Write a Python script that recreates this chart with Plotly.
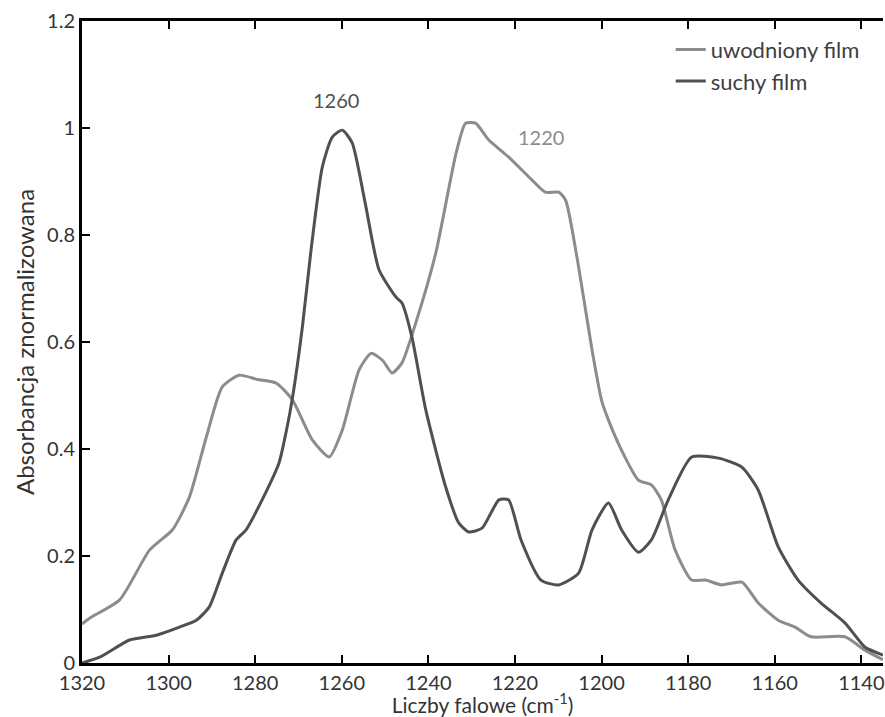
import plotly.graph_objects as go

# uwodniony film (hydrated) – light gray
x_wet = [1320, 1318, 1311.3, 1304.4, 1299.1, 1295.2, 1291.3, 1287.6, 1283.7, 1279.5, 1275.1, 1271.4,
         1266.8, 1262.9, 1259.9, 1256.0, 1253.2, 1250.5, 1248.4, 1246.1, 1242.9, 1238.3, 1233.6,
         1231.4, 1229.1, 1226.1, 1221.5, 1216.1, 1213.0, 1209.9, 1208.3, 1205.3, 1202.2, 1200.0,
         1198.4, 1195.4, 1191.5, 1188.5, 1186.2, 1183.0, 1179.2, 1176.0, 1172.3, 1167.6, 1163.8,
         1159.2, 1155.3, 1151.6, 1143.8, 1139.2, 1135]
y_wet = [0.073, 0.085, 0.118, 0.211, 0.249, 0.31, 0.422, 0.516, 0.538, 0.530, 0.523, 0.492,
         0.417, 0.385, 0.435, 0.548, 0.579, 0.565, 0.542, 0.561, 0.636, 0.766, 0.953,
         1.009, 1.009, 0.978, 0.946, 0.903, 0.880, 0.880, 0.865, 0.740, 0.585, 0.491,
         0.454, 0.398, 0.342, 0.333, 0.305, 0.211, 0.155, 0.155, 0.146, 0.151, 0.112,
         0.080, 0.067, 0.049, 0.049, 0.024, 0.006]

# suchy film (dry) – dark gray
x_dry = [1320, 1315.9, 1309.0, 1302.8, 1297.5, 1293.6, 1290.6, 1287.6, 1284.4, 1282.1, 1278.4,
         1274.5, 1272.9, 1271.4, 1269.1, 1267.1, 1264.5, 1262.2, 1259.9, 1257.6, 1254.6, 1251.4,
         1247.5, 1246.1, 1243.8, 1240.6, 1236.0, 1233.0, 1230.7, 1227.6, 1223.7, 1221.5, 1218.6,
         1214.0, 1209.9, 1205.3, 1202.2, 1198.4, 1195.4, 1191.5, 1188.5, 1184.6, 1179.2, 1173.0,
         1167.6, 1163.8, 1159.2, 1154.6, 1149.3, 1143.8, 1139.2, 1135]
y_dry = [0.0, 0.011, 0.043, 0.052, 0.067, 0.080, 0.105, 0.168, 0.230, 0.249, 0.305,
         0.374, 0.430, 0.495, 0.628, 0.772, 0.927, 0.983, 0.996, 0.972, 0.860, 0.735,
         0.684, 0.673, 0.609, 0.473, 0.329, 0.262, 0.245, 0.252, 0.305, 0.305, 0.230,
         0.155, 0.146, 0.168, 0.249, 0.299, 0.249, 0.207, 0.230, 0.305, 0.385, 0.383,
         0.366, 0.323, 0.217, 0.155, 0.112, 0.075, 0.030, 0.015]

x_ticks = [1320, 1300, 1280, 1260, 1240, 1220, 1200, 1180, 1160, 1140]
y_ticks = [0, 0.2, 0.4, 0.6, 0.8, 1.0, 1.2]

peak_labels = ["1260", "1220"]
peak_x = [1261.3, 1214.1]
peak_y = [1.052, 0.983]

WET = "#8c8c8c"
DRY = "#505050"
FONT = "Lato, 'Open Sans', sans-serif"

fig = go.Figure()
fig.add_trace(go.Scatter(x=x_wet, y=y_wet, mode="lines", name="uwodniony film", legendgroup="a",
                         line=dict(color=WET, width=3, shape="spline", smoothing=0.6)))
fig.add_trace(go.Scatter(x=x_dry, y=y_dry, mode="lines", name="suchy film", legendgroup="b",
                         line=dict(color=DRY, width=3, shape="spline", smoothing=0.6)))

for t, xx, yy, c in zip(peak_labels, peak_x, peak_y, [DRY, WET]):
    fig.add_annotation(x=xx, y=yy, text=t, showarrow=False,
                       font=dict(family=FONT, size=20, color=c))

fig.update_layout(
    width=885, height=717,
    margin=dict(l=82, r=0, t=21, b=54),
    plot_bgcolor="white", paper_bgcolor="white",
    font=dict(family=FONT, size=20, color="#333333"),
    showlegend=True,
    legend=dict(x=0.735, y=0.988, xanchor="left", yanchor="top",
                bgcolor="rgba(0,0,0,0)", font=dict(family=FONT, size=22, color="#404040"),
                tracegroupgap=0),
    xaxis=dict(range=[1320, 1135], tickvals=x_ticks, ticks="inside", ticklen=8, tickwidth=2,
               tickcolor="black", showline=True, linecolor="black", linewidth=3,
               mirror="ticks", showgrid=False, zeroline=False, ticklabeloverflow="allow",
               tickfont=dict(size=20, color="#333333"),
               title=dict(text="Liczby falowe (cm<sup>-1</sup>)", standoff=2,
                          font=dict(size=21, color="#333333"))),
    yaxis=dict(range=[0, 1.2], tickvals=y_ticks, ticks="inside", ticklen=8, tickwidth=2,
               tickcolor="black", showline=True, linecolor="black", linewidth=3,
               showgrid=False, zeroline=False,
               tickfont=dict(size=20, color="#333333"),
               title=dict(text="Absorbancja znormalizowana", standoff=6,
                          font=dict(size=24, color="#333333"))),
)

fig.write_html("out.html")
